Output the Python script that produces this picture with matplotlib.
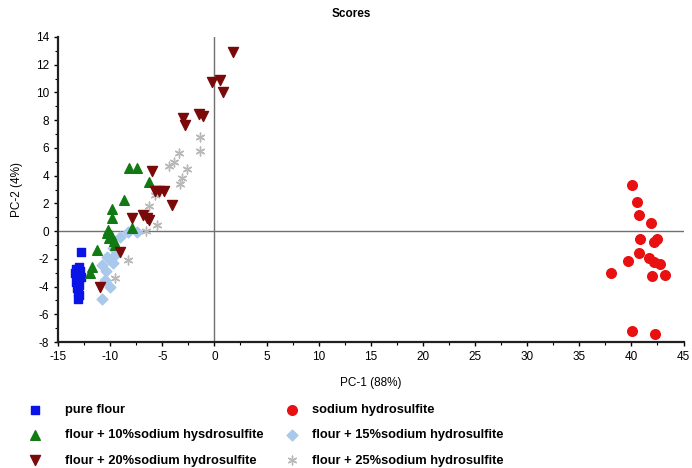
import numpy as np
import matplotlib
matplotlib.use('Agg')
import matplotlib.pyplot as plt
from matplotlib.ticker import MultipleLocator

plt.rcParams['font.family'] = ['Liberation Sans', 'DejaVu Sans']
plt.rcParams['axes.unicode_minus'] = False

# PCA scores
pure_x = [-12.8, -13.3, -13.0, -12.9, -13.2, -13.1, -13.3, -13.0, -13.2, -13.1, -13.0, -13.1, -13.4, -12.8]
pure_y = [-1.5, -2.7, -2.6, -2.9, -3.1, -3.4, -3.7, -3.9, -4.1, -4.4, -4.6, -4.9, -3.0, -3.3]

f10_x = [-8.2, -7.4, -6.3, -8.65, -9.86, -9.8, -10.3, -7.9, -10.1, -9.9, -9.6, -11.3, -11.7, -11.9, -9.5, -10.2]
f10_y = [4.57, 4.57, 3.56, 2.24, 1.59, 0.92, -0.15, 0.24, -0.5, -0.3, -0.7, -1.37, -2.6, -3.0, -1.0, 0.1]

f20_x = [1.8, -0.27, 0.53, 0.8, -3.05, -2.83, -1.46, -1.07, -5.96, -5.7, -5.3, -4.84, -4.1, -7.94, -6.83, -6.5, -6.25, -9.06, -11.0]
f20_y = [12.9, 10.77, 10.9, 10.05, 8.13, 7.65, 8.42, 8.3, 4.35, 2.89, 2.89, 2.89, 1.88, 0.92, 1.15, 0.92, 0.79, -1.5, -4.06]

hydro_x = [40.1, 40.57, 40.7, 41.85, 40.8, 42.14, 42.5, 40.7, 39.7, 41.7, 42.2, 42.7, 38.0, 42.0, 43.2, 40.06, 42.26]
hydro_y = [3.32, 2.11, 1.15, 0.6, -0.6, -0.77, -0.58, -1.54, -2.14, -1.97, -2.2, -2.38, -3.05, -3.25, -3.17, -7.2, -7.38]

f15_x = [-9.06, -8.26, -7.46, -9.7, -10.3, -10.8, -9.7, -10.5, -10.0, -10.8, -9.3, -9.9, -10.4]
f15_y = [-0.4, -0.05, -0.05, -1.25, -1.85, -2.45, -2.3, -3.5, -4.06, -4.86, -1.6, -2.0, -2.9]

f25_x = [-1.39, -1.39, -3.4, -3.9, -4.36, -2.67, -3.1, -5.7, -6.3, -5.5, -6.6, -8.26, -9.5, -3.3, -5.2]
f25_y = [6.76, 5.8, 5.6, 4.96, 4.69, 4.45, 3.8, 2.6, 1.8, 0.43, 0.0, -2.1, -3.4, 3.4, 2.9]

labels_left = ['pure flour', 'flour + 10%sodium hysdrosulfite', 'flour + 20%sodium hydrosulfite']
labels_right = ['sodium hydrosulfite', 'flour + 15%sodium hydrosulfite', 'flour + 25%sodium hydrosulfite']

W, H = 692, 468
fig = plt.figure(figsize=(W / 100, H / 100), dpi=100)
ax = fig.add_axes([0.0838, 0.269, 0.904, 0.652])

ax.axhline(0, color='#707070', lw=1.0, zorder=1)
ax.axvline(0, color='#707070', lw=1.0, zorder=1)

h_pure = ax.scatter(pure_x, pure_y, marker='s', s=38, color='#0a14e6', zorder=3)
h_hyd = ax.scatter(hydro_x, hydro_y, marker='o', s=48, color='#e81010', zorder=3)
h_10 = ax.scatter(f10_x, f10_y, marker='^', s=48, color='#127a12', zorder=3)
h_15 = ax.scatter(f15_x, f15_y, marker='D', s=30, color='#a8c8ec', zorder=2)
h_20 = ax.scatter(f20_x, f20_y, marker='v', s=52, color='#7a0a0a', zorder=3)
h_25 = ax.scatter(f25_x, f25_y, marker=(6, 2, 0), s=40, color='#b8b8b8', lw=1.0, zorder=2)

ax.set_xlim(-15, 45)
ax.set_ylim(-8, 14)
ax.xaxis.set_major_locator(MultipleLocator(5))
ax.xaxis.set_minor_locator(MultipleLocator(2.5))
ax.yaxis.set_major_locator(MultipleLocator(2))
ax.yaxis.set_minor_locator(MultipleLocator(1))

for s in ['top', 'right']:
    ax.spines[s].set_visible(False)
for s in ['left', 'bottom']:
    ax.spines[s].set_linewidth(1.6)
    ax.spines[s].set_color('#202020')

ax.tick_params(axis='both', which='major', labelsize=8.5, length=3, width=1, direction='out')
ax.tick_params(axis='both', which='minor', length=2, width=0.8, direction='out')

ax.set_xlabel('PC-1 (88%)', fontsize=8.5, labelpad=10)
ax.set_ylabel('PC-2 (4%)', fontsize=8.5, labelpad=9)
fig.text(0.507, 0.97, 'Scores', ha='center', va='center', fontsize=8.5, fontweight='bold')

fs = 9.3
fpx = fs * 100 / 72
leg_font = {'family': ['Liberation Sans Narrow', 'Liberation Sans'], 'weight': 'bold', 'size': fs}
common = dict(loc='upper left', frameon=False, prop=leg_font, borderpad=0, borderaxespad=0,
              handlelength=1.0, labelspacing=1.03)

# left column: marker centre ~35px, text ~65px
x0 = 35 - 0.5 * fpx
leg1 = fig.legend([h_pure, h_10, h_20], labels_left,
                  bbox_to_anchor=(x0 / W, 1 - 404 / H),
                  handletextpad=(65 - x0 - fpx) / fpx, **common)
# right column: marker centre ~292px, text ~312px
x1 = 292 - 0.5 * fpx
leg2 = fig.legend([h_hyd, h_15, h_25], labels_right,
                  bbox_to_anchor=(x1 / W, 1 - 404 / H),
                  handletextpad=(312 - x1 - fpx) / fpx, **common)

fig.savefig('out.png', dpi=100)
